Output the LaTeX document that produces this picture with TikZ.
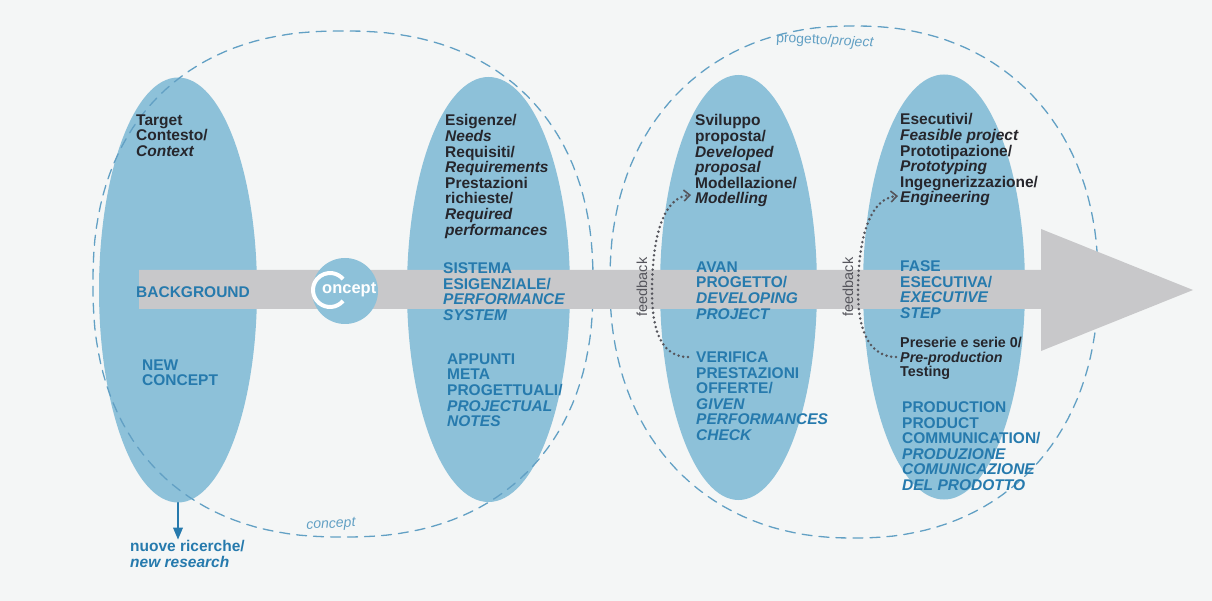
\documentclass[tikz,border=0pt]{standalone}
\usepackage{fontspec}
\setmainfont{Liberation Sans}
\usepackage{tikz}
\usepackage{xcolor}
\usetikzlibrary{arrows}
\usetikzlibrary{arrows.meta,shapes.geometric}
\definecolor{paper}{RGB}{244,246,246}
\definecolor{phaseblue}{RGB}{141,193,217}
\definecolor{inkblue}{RGB}{38,122,173}
\definecolor{inkdark}{RGB}{38,38,44}
\definecolor{bandgray}{RGB}{200,200,202}
\definecolor{ringblue}{RGB}{98,160,196}
\definecolor{dotgray}{RGB}{85,85,92}
\begin{document}
\begin{tikzpicture}[line cap=round,line join=round,>=triangle 45,x=1pt,y=-1pt,
    declare function={spx(\ang,\ex)=ifthenelse(cos(\ang)<0,-1,1)*pow(abs(cos(\ang))+0.0001,2/\ex);
                      spy(\ang,\ex)=ifthenelse(sin(\ang)<0,-1,1)*pow(abs(sin(\ang))+0.0001,2/\ex);},
    phasebox/.style={ellipse,fill=phaseblue,inner sep=0pt,minimum height=425pt},
    ringline/.style={draw=ringblue,line width=1.3pt,dash pattern=on 10pt off 7pt},
    darktext/.style={anchor=north west,inner sep=0pt,align=left,text=inkdark,font=\fontsize{15.5}{15.6}\selectfont\bfseries},
    bluetext/.style={darktext,text=inkblue},
    smalltext/.style={darktext,font=\fontsize{14.3}{14.5}\selectfont\bfseries},
    ringlabel/.style={inner sep=0pt,text=ringblue,font=\fontsize{14}{14}\selectfont},
    fbtext/.style={inner sep=0pt,rotate=90,text=dotgray,font=\fontsize{14.5}{14.5}\selectfont},
    fbline/.style={draw=dotgray,line width=2.8pt,dash pattern=on 0pt off 4.8pt,-{Straight Barb[length=6pt,width=11pt,line width=1.6pt]}}]
    \useasboundingbox (0,0) rectangle (1212,601);
    \fill[paper] (0,0) rectangle (1212,601);
    \node[phasebox,minimum width=158pt] (ctxphase) at (178,290) {};
    \node[phasebox,minimum width=163pt] (needsphase) at (488.5,289.5) {};
    \node[phasebox,minimum width=157pt] (projphase) at (738.5,287.5) {};
    \node[phasebox,minimum width=162pt] (execphase) at (944,287) {};
    \draw[ringline] plot[domain=0:360,samples=145] ({343+250*spx(\x,2.3)},{284+253*spy(\x,2.3)}) -- cycle;
    \draw[ringline] plot[domain=0:360,samples=145] ({854+244*spx(\x,2.2)},{282+256*spy(\x,2.2)}) -- cycle;
    \fill[bandgray] (139,270) -- (1041,270) -- (1041,229) -- (1193,290) -- (1041,351) -- (1041,309) -- (139,309) -- cycle;
    \node[circle,fill=phaseblue,minimum size=66pt,inner sep=0pt] (logo) at (345,291) {};
    \draw[white,line width=4pt,line cap=butt] ([shift={(40:17)}]330,290) arc (40:320:17);
    \node[anchor=base west,inner sep=0pt,text=white,font=\fontsize{16.5}{16.5}\selectfont\bfseries] (logotext) at (322,294) {oncept};
    \node[ringlabel,rotate=3] (conceptlabel) at (331,525) {\itshape concept};
    \node[ringlabel,rotate=-3] (projectlabel) at (825,41) {progetto/\textit{project}};
    \node[darktext] (context) at (136,114.5) {Target\\Contesto/\\\textit{Context}};
    \node[bluetext,anchor=west] (background) at (136,292) {BACKGROUND};
    \node[bluetext] (newconcept) at (142,359.5) {NEW\\CONCEPT};
    \node[bluetext] (research) at (130,540.5) {nuove ricerche/\\\textit{new research}};
    \node[darktext] (needs) at (445,114.5) {Esigenze/\\\textit{Needs}\\Requisiti/\\\textit{Requirements}\\Prestazioni\\richieste/\\\textit{Required}\\\textit{performances}};
    \node[bluetext] (system) at (443,262.5) {SISTEMA\\ESIGENZIALE/\\\textit{PERFORMANCE}\\\textit{SYSTEM}};
    \node[bluetext] (notes) at (447,353.5) {APPUNTI\\META\\PROGETTUALI/\\\textit{PROJECTUAL}\\\textit{NOTES}};
    \node[darktext] (proposal) at (695,114.5) {Sviluppo\\proposta/\\\textit{Developed}\\\textit{proposal}\\Modellazione/\\\textit{Modelling}};
    \node[bluetext] (developing) at (696,261.5) {AVAN\\PROGETTO/\\\textit{DEVELOPING}\\\textit{PROJECT}};
    \node[bluetext] (check) at (696,351.5) {VERIFICA\\PRESTAZIONI\\OFFERTE/\\\textit{GIVEN}\\\textit{PERFORMANCES}\\\textit{CHECK}};
    \node[darktext] (feasible) at (900,113.5) {Esecutivi/\\\textit{Feasible project}\\Prototipazione/\\\textit{Prototyping}\\Ingegnerizzazione/\\\textit{Engineering}};
    \node[bluetext] (executive) at (900,260.5) {FASE\\ESECUTIVA/\\\textit{EXECUTIVE}\\\textit{STEP}};
    \node[smalltext] (preseries) at (900,337) {Preserie e serie 0/\\\textit{Pre-production}\\Testing};
    \node[bluetext] (production) at (902,401.5) {PRODUCTION\\PRODUCT\\COMMUNICATION/\\\textit{PRODUZIONE}\\\textit{COMUNICAZIONE}\\\textit{DEL PRODOTTO}};
    \draw[->,draw=inkblue,fill=inkblue,line width=1.8pt,shorten >=1pt] (ctxphase.south) -- (ctxphase.south |- research.north);
    \node[fbtext] (feedbackA) at (642,287) {feedback};
    \node[fbtext] (feedbackB) at (848,287) {feedback};
    \coordinate (fbstartA) at (688,357);
    \coordinate (fbendA) at (691,195);
    \coordinate (fbstartB) at (896,357);
    \coordinate (fbendB) at (898,196);
    \draw[fbline] (fbstartA) .. controls (664,357) and (652,335) .. (652,292) .. controls (652,235) and (664,197) .. (fbendA);
    \draw[fbline] (fbstartB) .. controls (872,357) and (858,335) .. (858,292) .. controls (858,235) and (871,198) .. (fbendB);
\end{tikzpicture}
\end{document}
